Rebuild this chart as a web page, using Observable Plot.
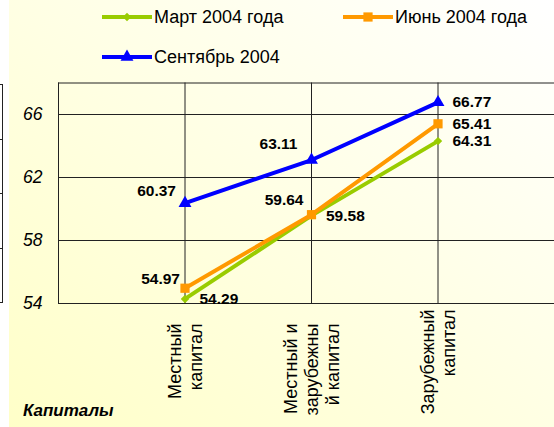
<!DOCTYPE html>
<html><head><meta charset="utf-8">
<script src="https://cdn.jsdelivr.net/npm/d3@7"></script>
<script src="https://cdn.jsdelivr.net/npm/@observablehq/plot@0.6"></script>
<style>
html,body{margin:0;padding:0;background:#fff;}
#wrap{position:relative;width:554px;height:427px;overflow:hidden;font-family:"Liberation Sans",Arial,sans-serif;}
#bg{position:absolute;left:9px;top:0;right:0;bottom:0;background:linear-gradient(to top right,#FFFFC8,#FFFFFF);}
#legend{position:relative;height:76px;}
.item{position:absolute;display:flex;align-items:center;font-size:18px;color:#000;white-space:nowrap;}
.item svg{margin-right:2px;}
#chart{position:relative;}
#edge{position:absolute;left:0;top:84px;width:2px;height:218px;border-right:1px solid #222;border-bottom:1px solid #222;background:repeating-linear-gradient(to bottom,#222 0 1px,transparent 1px 54.5px);}
#xtitle{position:absolute;left:23px;top:401px;font-size:17px;font-weight:bold;font-style:italic;color:#000;}
</style></head>
<body>
<div id="wrap">
  <div id="bg"></div>
  <div id="edge"></div>
  <div id="legend"></div>
  <div id="chart"></div>
  <div id="xtitle">Капиталы</div>
</div>
<script>
const categories = ["Местный\nкапитал", "Местный и\nзарубежны\nй капитал", "Зарубежный\nкапитал"];
const seriesNames = ["Март 2004 года", "Июнь 2004 года", "Сентябрь 2004"];
const march = [54.29, 59.58, 64.31];
const june = [54.97, 59.64, 65.41];
const september = [60.37, 63.11, 66.77];
const yTicks = [54, 58, 62, 66];
const colors = ["#99CC00", "#FF9900", "#0000FF"];
const symbols = ["diamond2", "square", "triangle"];
const markerR = [3.8, 5.2, 4.8];

const rows = [];
[march, june, september].forEach((vals, s) =>
  vals.forEach((v, i) => rows.push({series: seriesNames[s], s, i: i + 1, v})));

// Legend
const legendPos = [{left: 102, top: 6}, {left: 343, top: 6}, {left: 102, top: 46}];
const legend = document.getElementById("legend");
seriesNames.forEach((name, s) => {
  const item = document.createElement("div");
  item.className = "item";
  item.style.left = legendPos[s].left + "px";
  item.style.top = legendPos[s].top + "px";
  const svg = d3.create("svg").attr("width", 50).attr("height", 22);
  svg.append("line").attr("x1", 0).attr("x2", 50).attr("y1", 11).attr("y2", 11)
    .attr("stroke", colors[s]).attr("stroke-width", 4);
  const sym = s === 0 ? d3.symbolDiamond2 : s === 1 ? d3.symbolSquare : d3.symbolTriangle;
  svg.append("path").attr("transform", "translate(25,11)")
    .attr("d", d3.symbol(sym, Math.PI * markerR[s] * markerR[s])()).attr("fill", colors[s]);
  item.appendChild(svg.node());
  const t = document.createElement("span");
  t.textContent = name;
  item.appendChild(t);
  legend.appendChild(item);
});

const labelSpots = [
  {filter: d => d.s === 2 && d.i === 1, anchor: "end", dx: -9, dy: -12},
  {filter: d => d.s === 2 && d.i === 2, anchor: "end", dx: -14, dy: -16},
  {filter: d => d.s === 1 && d.i === 1, anchor: "end", dx: -5, dy: -9},
  {filter: d => d.s === 1 && d.i === 2, anchor: "end", dx: -8, dy: -15},
  {filter: d => d.s === 0 || d.i === 3, anchor: "start", dx: 14.5, dy: 0}
];

const gridColor = "#222";
const chart = Plot.plot({
  width: 554,
  height: 351,
  marginLeft: 58, marginRight: 0, marginTop: 6.5, marginBottom: 124,
  style: {background: "transparent", color: "#000", fontFamily: "'Liberation Sans', Arial, sans-serif", overflow: "hidden"},
  x: {type: "linear", domain: [0, 4], range: [58, 564]},
  y: {domain: [54, 68], range: [227, 6.5]},
  marks: [
    Plot.gridY(yTicks, {stroke: gridColor, strokeOpacity: 1}),
    Plot.gridX([1, 2, 3], {stroke: gridColor, strokeOpacity: 1}),
    Plot.ruleX([0], {stroke: gridColor}),
    Plot.ruleY([68], {stroke: gridColor}),
    Plot.axisY(yTicks, {tickSize: 0, tickPadding: 16, fontSize: 17.5, fontStyle: "italic", label: null}),
    Plot.axisX([1, 2], {tickFormat: i => categories[i - 1], tickRotate: -90, tickSize: 0, tickPadding: 20, fontSize: 18, lineHeight: 1.15, label: null}),
    Plot.axisX([3], {tickFormat: i => categories[i - 1], tickRotate: -90, tickSize: 0, tickPadding: 6, fontSize: 18, lineHeight: 1.15, label: null}),
    ...seriesNames.map((name, s) => Plot.line(rows.filter(d => d.s === s), {x: "i", y: "v", stroke: colors[s], strokeWidth: 4})),
    ...seriesNames.map((name, s) => Plot.dot(rows.filter(d => d.s === s), {x: "i", y: "v", symbol: symbols[s], fill: colors[s], r: markerR[s]})),
    ...labelSpots.map(p => Plot.text(rows.filter(p.filter), {
      x: "i", y: "v", text: d => d.v.toFixed(2), textAnchor: p.anchor, dx: p.dx, dy: p.dy,
      fontSize: 15.5, fontWeight: "bold", fill: "#000"
    }))
  ]
});
document.getElementById("chart").appendChild(chart);
</script>
</body></html>
